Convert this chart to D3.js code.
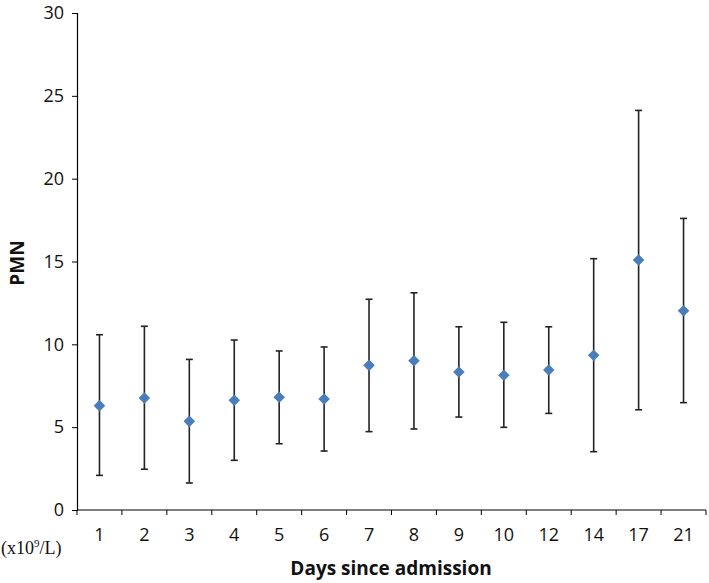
<!DOCTYPE html>
<html><head><meta charset="utf-8">
<script src="https://cdn.jsdelivr.net/npm/d3@7"></script>
<style>body{margin:0;background:#fff}</style>
</head><body>
<svg id="c" width="709" height="583"></svg>
<script>
const days = ["1","2","3","4","5","6","7","8","9","10","12","14","17","21"];
const means = [6.3, 6.76, 5.35, 6.62, 6.8, 6.7, 8.73, 9.01, 8.33, 8.13, 8.45, 9.34, 15.09, 12.03];
const uppers = [10.58, 11.09, 9.09, 10.26, 9.6, 9.84, 12.72, 13.11, 11.06, 11.33, 11.06, 15.17, 24.12, 17.6];
const lowers = [2.09, 2.46, 1.63, 3.0, 4.0, 3.56, 4.73, 4.89, 5.61, 4.99, 5.83, 3.52, 6.05, 6.48];
const yTicks = [0, 5, 10, 15, 20, 25, 30];

const svg = d3.select("#c");
const x = d3.scaleBand().domain(days).range([77, 706]);
const y = d3.scaleLinear().domain([0, 30]).range([510, 13]);

const yAxis = svg.append("g").attr("transform", "translate(77,0)")
  .call(d3.axisLeft(y).tickValues(yTicks).tickSize(5).tickPadding(8));
const xAxis = svg.append("g").attr("transform", "translate(0,510)")
  .call(d3.axisBottom(x).tickSize(0).tickPadding(18));
const bounds = days.map((d) => x(d)).concat([x.range()[1]]);
xAxis.selectAll(".bt").data(bounds).enter().append("line")
  .attr("x1", d => d).attr("x2", d => d).attr("y1", 0).attr("y2", 5)
  .attr("stroke", "#000");
[yAxis, xAxis].forEach(g => {
  g.select(".domain").attr("stroke", "#000").attr("stroke-width", 1.2);
  g.selectAll(".tick line").attr("stroke", "#000");
  g.selectAll("text").attr("font-family", "Open Sans, Liberation Sans, sans-serif")
    .attr("font-size", 18).attr("fill", "#111");
});
xAxis.selectAll(".domain").attr("d", `M77,0H706`);

const data = days.map((d, i) => ({d, m: means[i], u: uppers[i], l: lowers[i]}));
const g = svg.append("g");
const cx = d => x(d.d) + x.bandwidth() / 2;
g.selectAll(".eb").data(data).enter().append("line")
  .attr("x1", cx).attr("x2", cx).attr("y1", d => y(d.u)).attr("y2", d => y(d.l))
  .attr("stroke", "#222").attr("stroke-width", 1.6);
g.selectAll(".cu").data(data).enter().append("line")
  .attr("x1", d => cx(d) - 3.5).attr("x2", d => cx(d) + 3.5)
  .attr("y1", d => y(d.u)).attr("y2", d => y(d.u)).attr("stroke", "#222").attr("stroke-width", 1.6);
g.selectAll(".cl").data(data).enter().append("line")
  .attr("x1", d => cx(d) - 3.5).attr("x2", d => cx(d) + 3.5)
  .attr("y1", d => y(d.l)).attr("y2", d => y(d.l)).attr("stroke", "#222").attr("stroke-width", 1.6);
g.selectAll(".mk").data(data).enter().append("path")
  .attr("d", d3.symbol().type(d3.symbolDiamond2).size(85)())
  .attr("transform", d => `translate(${cx(d)},${y(d.m)})`)
  .attr("fill", "#4a7ebb");

svg.append("text").attr("transform", "translate(24,263) rotate(-90)")
  .attr("text-anchor", "middle").attr("font-family", "Open Sans, Liberation Sans, sans-serif")
  .attr("font-weight", "bold").attr("font-size", 19).attr("fill", "#111").text("PMN");
svg.append("text").attr("x", 391).attr("y", 575)
  .attr("text-anchor", "middle").attr("font-family", "Open Sans, Liberation Sans, sans-serif")
  .attr("font-weight", "bold").attr("font-size", 19).attr("fill", "#111").text("Days since admission");
const u = svg.append("text").attr("x", 1).attr("y", 554)
  .attr("font-family", "Liberation Serif, Times New Roman, serif").attr("font-size", 18).attr("fill", "#111");
u.append("tspan").text("(x10");
u.append("tspan").attr("dy", -7).attr("font-size", 11).text("9");
u.append("tspan").attr("dy", 7).text("/L)");
</script>
</body></html>
